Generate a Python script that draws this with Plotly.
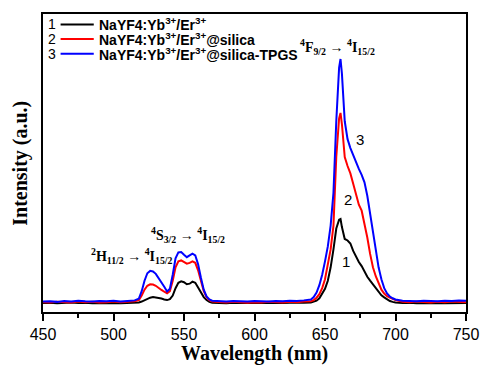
import plotly.graph_objects as go

# ---------------- data ----------------
wavelength = [450, 455, 460, 465, 470, 475, 480, 485, 490, 495, 500, 505, 510, 515,
              518, 520, 522, 524, 526, 528, 530, 532, 534, 536, 538, 540, 542, 544,
              546, 548, 550, 552, 554, 556, 558, 560, 562, 564, 566, 568, 570,
              575, 580, 585, 590, 595, 600, 605, 610, 615, 620, 625, 630, 635,
              640, 642, 644, 646, 648, 650, 652, 654, 656, 658, 660, 661, 662, 664,
              666, 668, 670, 672, 674, 676, 678, 680, 682, 684, 686, 688, 690, 692,
              694, 696, 698, 700,
              705, 710, 715, 720, 725, 730, 735, 740, 745, 750]

core = [3.0, 3.1, 2.9, 3.0, 3.2, 3.0, 3.1, 2.9, 3.0, 3.1, 3.0, 2.9, 3.0, 3.1,
        3.2, 3.5, 4.0, 4.5, 4.8, 5.0, 4.9, 4.7, 4.5, 4.2, 4.0, 4.3, 5.5, 8.0,
        9.8, 10.3, 10.0, 9.3, 9.5, 10.2, 9.8, 8.2, 6.5, 5.0, 4.0, 3.4, 3.1,
        3.0, 2.9, 3.1, 3.0, 2.9, 3.0, 3.1, 3.0, 2.9, 3.0, 3.1, 3.0, 3.1,
        3.2, 3.4, 3.8, 4.6, 6.0, 7.8, 10.5, 15.0, 21.0, 28.0, 31.0, 31.2, 28.5, 24.5,
        24.0, 23.0, 20.5, 18.5, 16.8, 15.4, 13.5, 11.8, 10.5, 9.3, 8.0, 6.8, 5.6, 4.9,
        4.2, 3.7, 3.4, 3.2,
        3.0, 3.1, 2.9, 3.0, 3.1, 3.0, 2.9, 3.0, 3.1, 3.0]

silica = [3.3, 3.2, 3.4, 3.3, 3.2, 3.5, 3.3, 3.4, 3.2, 3.3, 3.5, 3.3, 3.4, 3.6,
          4.0, 5.5, 7.5, 8.8, 9.3, 9.2, 8.8, 8.0, 7.4, 6.8, 6.3, 7.0, 10.5, 15.0,
          17.0, 17.3, 16.8, 16.2, 16.5, 17.0, 16.5, 14.0, 10.5, 7.0, 5.0, 4.0, 3.5,
          3.3, 3.2, 3.4, 3.3, 3.1, 3.3, 3.2, 3.4, 3.3, 3.2, 3.4, 3.3, 3.5,
          3.6, 4.0, 4.8, 6.0, 8.0, 11.0, 15.5, 21.0, 29.0, 52.0, 65.0, 66.8, 63.0, 52.0,
          49.0, 46.5, 43.0, 39.0, 36.0, 34.0, 30.0, 25.0, 19.5, 15.0, 12.0, 9.6, 7.5, 6.2,
          5.3, 4.8, 4.4, 4.0,
          3.4, 3.3, 3.5, 3.3, 3.2, 3.4, 3.3, 3.5, 3.4, 3.3]

silica_tpgs = [3.5, 3.6, 3.4, 3.7, 3.5, 3.8, 3.6, 3.5, 3.7, 3.6, 3.8, 3.5, 3.7, 3.9,
               4.5, 7.0, 10.5, 13.0, 13.8, 13.6, 12.8, 11.5, 10.2, 8.5, 6.9, 7.8, 12.5, 18.0,
               20.0, 20.1, 19.2, 18.4, 19.0, 19.6, 19.0, 16.0, 11.5, 7.5, 5.2, 4.2, 3.8,
               3.6, 3.5, 3.7, 3.6, 3.5, 3.7, 3.6, 3.5, 3.7, 3.6, 3.8, 3.7, 3.9,
               4.2, 5.0, 6.5, 9.0, 12.5, 17.0, 22.0, 29.0, 40.0, 64.0, 82.0, 84.9, 80.0, 64.0,
               58.0, 55.0, 52.5, 50.0, 48.0, 46.0, 43.5, 39.0, 33.0, 26.0, 20.0, 15.0, 11.0, 8.0,
               6.2, 5.2, 4.6, 4.2,
               3.8, 3.7, 3.6, 3.8, 3.7, 3.6, 3.8, 3.7, 3.9, 3.8]

series_names = ["NaYF4:Yb<sup>3+</sup>/Er<sup>3+</sup>",
                "NaYF4:Yb<sup>3+</sup>/Er<sup>3+</sup>@silica",
                "NaYF4:Yb<sup>3+</sup>/Er<sup>3+</sup>@silica-TPGS"]
series_numbers = ["1", "2", "3"]
series_colors = ["#000000", "#ff0000", "#0000ff"]
series_values = [core, silica, silica_tpgs]

x_ticks = [450, 500, 550, 600, 650, 700, 750]

# transition labels: (text, x, y)
transitions = [
    ("<sup>2</sup>H<sub>11/2</sub> → <sup>4</sup>I<sub>15/2</sub>", 513, 18.7),
    ("<sup>4</sup>S<sub>3/2</sub> → <sup>4</sup>I<sub>15/2</sub>", 553, 25.9),
    ("<sup>4</sup>F<sub>9/2</sub> → <sup>4</sup>I<sub>15/2</sub>", 658.6, 89),
]
# curve number labels: (text, x, y)
curve_labels = [("1", 664.6, 16.8), ("2", 666.2, 37.7), ("3", 675, 58)]

# ---------------- figure ----------------
fig = go.Figure()
for name, col, vals in zip(series_names, series_colors, series_values):
    fig.add_trace(go.Scatter(x=wavelength, y=vals, mode="lines", name=name,
                             line=dict(color=col, width=2), showlegend=False))

annotations = []
for text, x, y in transitions:
    annotations.append(dict(x=x, y=y, xref="x", yref="y", text="<b>" + text + "</b>",
                            showarrow=False,
                            font=dict(family="Liberation Serif", size=14, color="black"),
                            xanchor="center", yanchor="middle"))
for text, x, y in curve_labels:
    annotations.append(dict(x=x, y=y, xref="x", yref="y", text=text, showarrow=False,
                            font=dict(family="Liberation Sans, Arial", size=15, color="black"),
                            xanchor="center", yanchor="middle"))

# legend (hand drawn)
shapes = []
leg_y = [0.965, 0.916, 0.867]
for num, name, col, yy in zip(series_numbers, series_names, series_colors, leg_y):
    shapes.append(dict(type="line", xref="paper", yref="paper", x0=0.0416, x1=0.12,
                       y0=yy, y1=yy, line=dict(color=col, width=2)))
    annotations.append(dict(x=0.0208, y=yy, xref="paper", yref="paper", text=num,
                            showarrow=False, xanchor="center", yanchor="middle",
                            font=dict(family="Liberation Sans, Arial", size=14, color="black")))
    annotations.append(dict(x=0.127, y=yy, xref="paper", yref="paper", text="<b>" + name + "</b>",
                            showarrow=False, xanchor="left", yanchor="middle",
                            font=dict(family="Liberation Sans, Arial", size=14, color="black")))

# axis titles
annotations.append(dict(x=0.5, y=-0.14, xref="paper", yref="paper",
                        text="<b>Wavelength (nm)</b>", showarrow=False,
                        xanchor="center", yanchor="middle",
                        font=dict(family="Liberation Serif", size=20, color="black")))
annotations.append(dict(x=-0.055, y=0.5, xref="paper", yref="paper",
                        text="<b>Intensity (a.u.)</b>", showarrow=False, textangle=-90,
                        xanchor="center", yanchor="middle",
                        font=dict(family="Liberation Serif", size=20, color="black")))

fig.update_layout(
    width=491, height=366,
    margin=dict(l=43, r=15, t=12, b=54),
    paper_bgcolor="white", plot_bgcolor="white",
    annotations=annotations, shapes=shapes,
    showlegend=False,
)
fig.update_xaxes(range=[450, 750], tickvals=x_ticks, ticks="outside", ticklen=7, tickwidth=1.5,
                 tickcolor="black",
                 minor=dict(ticks="outside", ticklen=4, tickwidth=1.5, dtick=25, tickcolor="black"),
                 showline=True, linecolor="black", linewidth=2, mirror=True,
                 showgrid=False, zeroline=False,
                 tickfont=dict(family="Liberation Sans, Arial", size=16, color="black"))
fig.update_yaxes(range=[0, 100], showticklabels=False, ticks="",
                 showline=True, linecolor="black", linewidth=2, mirror=True,
                 showgrid=False, zeroline=False)

fig.write_html("out.html")
